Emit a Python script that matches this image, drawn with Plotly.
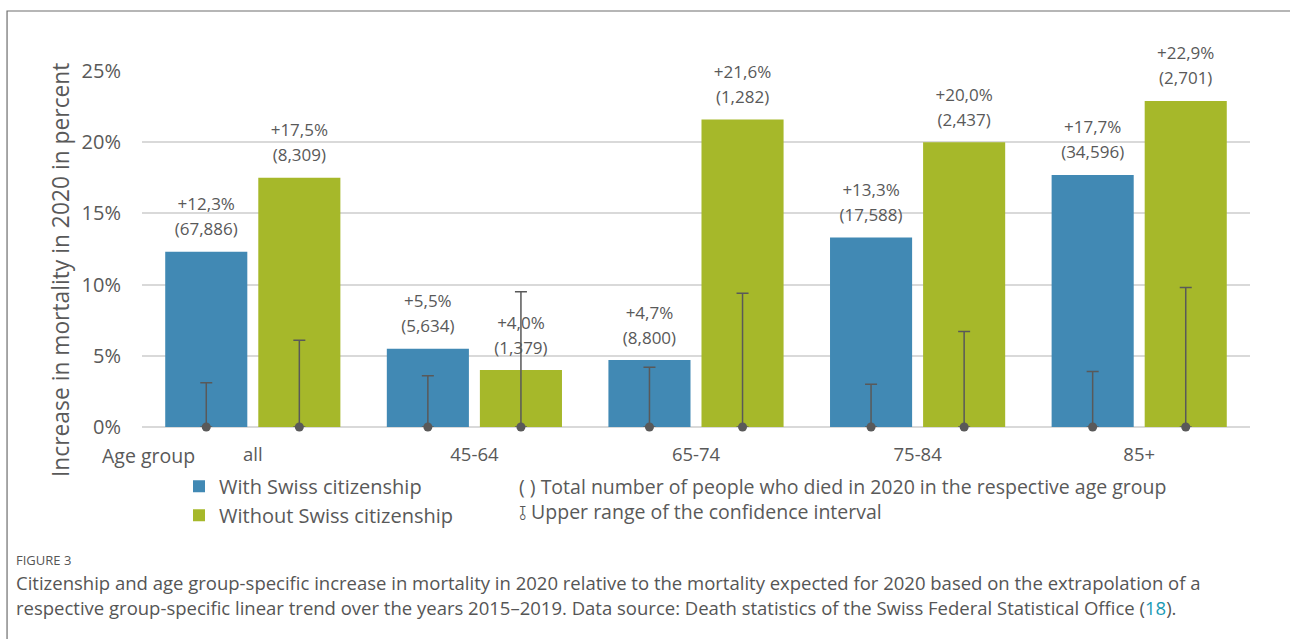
import plotly.graph_objects as go

categories = ["all", "45-64", "65-74", "75-84", "85+"]
swiss_pct = [12.3, 5.5, 4.7, 13.3, 17.7]
swiss_deaths = ["67,886", "5,634", "8,800", "17,588", "34,596"]
foreign_pct = [17.5, 4.0, 21.6, 20.0, 22.9]
foreign_deaths = ["8,309", "1,379", "1,282", "2,437", "2,701"]
swiss_ci_upper = [3.1, 3.6, 4.2, 3.0, 3.9]
foreign_ci_upper = [6.1, 9.5, 9.4, 6.7, 9.8]
y_ticks = [0, 5, 10, 15, 20, 25]
y_ticklabels = ["0%", "5%", "10%", "15%", "20%", "25%"]

BLUE = "#4189b4"
GREEN = "#a6b82a"
TEXT = "#595959"
FONT = "Open Sans"

fig = go.Figure()
series = [
    ("With Swiss citizenship", swiss_pct, swiss_deaths, swiss_ci_upper, BLUE, "s"),
    ("Without Swiss citizenship", foreign_pct, foreign_deaths, foreign_ci_upper, GREEN, "f"),
]
for name, vals, deaths, ci, color, grp in series:
    fig.add_trace(go.Bar(
        x=categories, y=vals, name=name, offsetgroup=grp,
        marker=dict(color=color, line=dict(width=0)),
        hoverinfo="skip",
    ))

for name, vals, deaths, ci, color, grp in series:
    # confidence interval upper range: dot at zero, line with cap up to upper value
    fig.add_trace(go.Scatter(
        x=categories, y=[0] * len(ci), mode="markers", offsetgroup=grp,
        marker=dict(size=9, color=TEXT),
        error_y=dict(type="data", symmetric=False, array=ci, arrayminus=[0] * len(ci),
                     color=TEXT, thickness=1.5, width=6),
        cliponaxis=False, showlegend=False, hoverinfo="skip",
    ))
    # value labels: count line and percent line above each bar
    fig.add_trace(go.Scatter(
        x=categories, y=vals, mode="markers+text", offsetgroup=grp,
        marker=dict(size=18, color="rgba(0,0,0,0)"),
        text=["(" + d + ")" for d in deaths], textposition="top center",
        textfont=dict(family=FONT, size=17, color=TEXT),
        cliponaxis=False, showlegend=False, hoverinfo="skip",
    ))
    fig.add_trace(go.Scatter(
        x=categories, y=vals, mode="markers+text", offsetgroup=grp,
        marker=dict(size=58, color="rgba(0,0,0,0)"),
        text=[("+%.1f%%" % v).replace(".", ",") for v in vals], textposition="top center",
        textfont=dict(family=FONT, size=17, color=TEXT),
        cliponaxis=False, showlegend=False, hoverinfo="skip",
    ))

fig.update_layout(
    width=1290, height=639,
    margin=dict(l=142, r=40, t=71, b=212),
    paper_bgcolor="white", plot_bgcolor="white",
    barmode="group", bargap=0.16, bargroupgap=0.118,
    scattermode="group", scattergap=0.16,
    font=dict(family=FONT, color=TEXT),
    showlegend=True,
    legend=dict(x=0.0334, y=-0.112, xanchor="left", yanchor="top",
                font=dict(family=FONT, size=20, color=TEXT),
                traceorder="normal", bgcolor="rgba(0,0,0,0)"),
    xaxis=dict(showgrid=False, showline=False, zeroline=False,
               tickfont=dict(family=FONT, size=18.5, color=TEXT),
               ticklabelstandoff=14),
    yaxis=dict(range=[0, 25], tickvals=y_ticks, ticktext=y_ticklabels,
               showgrid=True, gridcolor="#d9d9d9", gridwidth=1.5,
               zeroline=True, zerolinecolor="#d9d9d9", zerolinewidth=1.5,
               showline=False,
               tickfont=dict(family=FONT, size=20, color=TEXT),
               ticklabelstandoff=20),
)

# frame around figure
fig.add_shape(type="rect", xref="paper", yref="paper",
              x0=-0.1218, x1=1.06, y0=-0.65, y1=1.1685,
              line=dict(color="#6e6e6e", width=1.2), fillcolor="rgba(0,0,0,0)", layer="below")

annots = [
    dict(text="Increase in mortality in 2020 in percent", x=-0.074, y=0.441,
         xanchor="center", yanchor="middle", textangle=-90, font=dict(size=22.8)),
    dict(text="Age group", x=-0.0379, y=-0.0787, xanchor="left", yanchor="middle",
         font=dict(size=19.5)),
    dict(text="( ) Total number of people who died in 2020 in the respective age group",
         x=0.3384, y=-0.1685, xanchor="left", yanchor="middle", font=dict(size=19.5)),
    dict(text="⫱ Upper range of the confidence interval",
         x=0.3384, y=-0.238, xanchor="left", yanchor="middle", font=dict(size=19.5)),
    dict(text="FIGURE 3", x=-0.1155, y=-0.3736, xanchor="left", yanchor="middle",
         font=dict(size=13, color="#555555")),
    dict(text="Citizenship and age group-specific increase in mortality in 2020 relative to the mortality expected for 2020 based on the extrapolation of a",
         x=-0.1155, y=-0.4379, xanchor="left", yanchor="middle", font=dict(size=18.5, color="#555555")),
    dict(text="respective group-specific linear trend over the years 2015–2019. Data source: Death statistics of the Swiss Federal Statistical Office (<span style='color:#1a9bb5'>18</span>).",
         x=-0.1155, y=-0.5059, xanchor="left", yanchor="middle", font=dict(size=18.5, color="#555555")),
]
for a in annots:
    f = dict(family=FONT, color=TEXT)
    f.update(a.pop("font"))
    fig.add_annotation(xref="paper", yref="paper", showarrow=False, font=f, align="left", **a)

fig.write_html("out.html", config={"displayModeBar": False},
               post_script="document.body.style.margin='0';document.body.style.overflow='hidden';")
